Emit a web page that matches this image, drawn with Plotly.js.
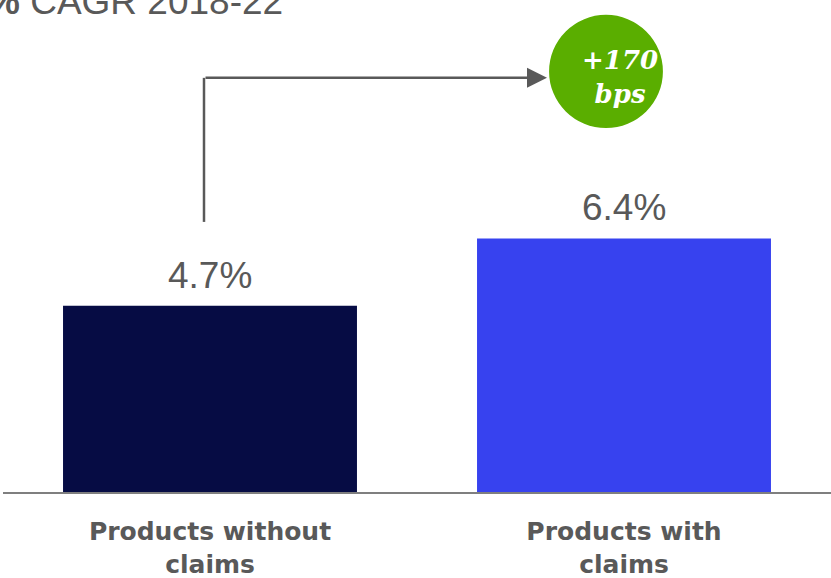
<!DOCTYPE html>
<html>
<head>
<meta charset="utf-8">
<script src="https://cdn.plot.ly/plotly-3.0.1.min.js"></script>
<style>html,body{margin:0;padding:0;background:#fff;}#chart{width:831px;height:578px;}</style>
</head>
<body>
<div id="chart"></div>
<script>
// Data
const categories = ["Products without claims", "Products with claims"];
const tickLabels = ["Products without<br>claims", "Products with<br>claims"];
const cagrValues = [4.7, 6.4];
const valueLabels = ["4.7%", "6.4%"];
const deltaLabel = "+170<br>bps";
const chartTitle = "<b>%</b> CAGR 2018-22";

const barColors = ["#060C44", "#3742EF"];
const gray = "#595959";
const green = "#5AAE00";

const trace = {
  type: "bar",
  x: categories,
  y: cagrValues,
  marker: { color: barColors, line: { width: 0 } },
  hoverinfo: "skip"
};

const annotations = categories.map((c, i) => ({
  x: c, y: cagrValues[i], xref: "x", yref: "y",
  text: valueLabels[i], showarrow: false,
  yanchor: "bottom", yshift: 8,
  font: { family: "Liberation Sans, Arial, sans-serif", size: 37, color: gray }
}));

// title
annotations.push({
  xref: "paper", yref: "paper", x: -0.0217, y: 0.996,
  xanchor: "left", yanchor: "middle", showarrow: false,
  text: chartTitle,
  font: { family: "Liberation Sans, Arial, sans-serif", size: 37, color: gray }
});

// arrow (horizontal leg with head)
annotations.push({
  xref: "x", yref: "y", axref: "x", ayref: "y",
  x: 0.814, y: 10.455, ax: -0.0145, ay: 10.455,
  text: "", showarrow: true, arrowhead: 2, arrowsize: 1.6, arrowwidth: 2.5,
  arrowcolor: gray, standoff: 0
});

// delta label in circle
annotations.push({
  xref: "x", yref: "y", x: 0.991, y: 10.47,
  text: "<i><b>" + deltaLabel + "</b></i>", showarrow: false,
  align: "center",
  font: { family: "DejaVu Serif, Liberation Serif, serif", size: 26, color: "#ffffff" },
  xanchor: "center", yanchor: "middle"
});

const shapes = [
  { type: "line", xref: "x", yref: "y", x0: -0.0145, x1: -0.0145, y0: 6.818, y1: 10.455,
    line: { color: gray, width: 2.5 } },
  { type: "circle", xref: "x", yref: "y", x0: 0.819, x1: 1.094, y0: 9.19, y1: 12.045,
    fillcolor: green, line: { width: 0 }, layer: "below" }
];

const layout = {
  width: 831, height: 578,
  margin: { l: 3, r: 0, t: 0, b: 86 },
  paper_bgcolor: "#ffffff", plot_bgcolor: "rgba(0,0,0,0)",
  bargap: 0.29,
  showlegend: false,
  xaxis: {
    range: [-0.5, 1.5],
    tickvals: categories, ticktext: tickLabels,
    ticks: "", showgrid: false, zeroline: false,
    showline: true, linecolor: "#7f7f7f", linewidth: 2,
    ticklabelstandoff: 16,
    tickfont: { family: "DejaVu Sans, Liberation Sans, sans-serif", size: 25, color: gray, weight: "bold" }
  },
  yaxis: {
    range: [0, 12.42], visible: false, showgrid: false, zeroline: false, fixedrange: true
  },
  annotations: annotations,
  shapes: shapes
};

Plotly.newPlot("chart", [trace], layout, { displayModeBar: false, staticPlot: true });
</script>
</body>
</html>
